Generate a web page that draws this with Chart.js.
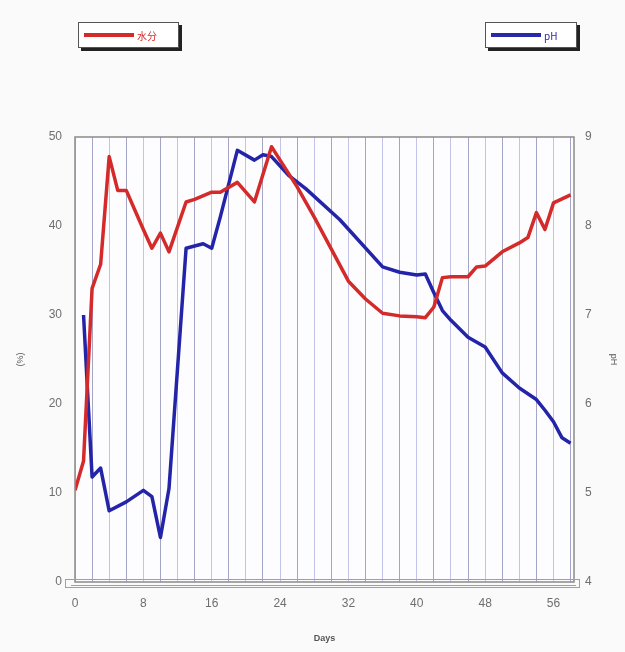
<!DOCTYPE html>
<html>
<head>
<meta charset="utf-8">
<script src="https://cdn.jsdelivr.net/npm/chart.js@4/dist/chart.umd.min.js"></script>
<style>
  html, body { margin: 0; padding: 0; background: #fafafa; }
  #wrap { position: relative; width: 625px; height: 652px; }
  .key {
    position: absolute; top: 22px; height: 26px; background: #fff;
    border: 1px solid #555; box-shadow: 3px 3px 0 #222;
    font: 10px "Noto Sans CJK SC", "Liberation Sans", sans-serif;
    display: flex; align-items: center; box-sizing: border-box;
  }
  .key span.ln { display: inline-block; width: 50px; height: 4px; margin: 0 3px 0 5px; }
</style>
</head>
<body>
<div id="wrap">
  <canvas id="mycanvas" width="625" height="652"></canvas>
  <div class="key" style="left:78px;width:101px;color:#d42a2a">
    <span class="ln" style="background:#d42a2a"></span>水分
  </div>
  <div class="key" style="left:485px;width:92px;color:#2a2aa8">
    <span class="ln" style="background:#2a2aa8"></span>pH
  </div>
</div>
<script>
// moisture content (%), left axis
var moistureDays = [0, 1, 2, 3, 4, 5, 6, 7, 8, 9, 10, 11, 13, 14, 16, 17, 19, 21, 23,
  24, 26, 28, 30, 32, 34, 36, 38, 40, 41, 42, 43, 44, 46, 47, 48, 50, 52, 53, 54, 55, 56, 58];
var moistureValues = [10.3, 13.6, 33.0, 35.7, 47.8, 44.0, 44.0, 41.8, 39.6, 37.5, 39.2, 37.1, 42.7, 43.0, 43.8, 43.8, 44.9, 42.7, 48.9,
  47.4, 44.4, 41.0, 37.4, 33.8, 31.8, 30.2, 29.9, 29.8, 29.7, 30.9, 34.2, 34.3, 34.3, 35.4, 35.5, 37.1, 38.1, 38.7, 41.5, 39.6, 42.6, 43.5];

// pH, right axis
var phDays = [1, 2, 3, 4, 6, 8, 9, 10, 11, 12, 13, 15, 16, 17, 19, 21, 22, 23, 25, 27,
  31, 36, 38, 40, 41, 42, 43, 44, 46, 48, 50, 52, 54, 55, 56, 57, 58];
var phValues = [7.0, 5.18, 5.28, 4.8, 4.9, 5.03, 4.96, 4.5, 5.05, 6.4, 7.75, 7.8, 7.75, 8.1, 8.85, 8.74, 8.8, 8.78, 8.57, 8.42,
  8.07, 7.54, 7.48, 7.45, 7.46, 7.25, 7.05, 6.94, 6.75, 6.64, 6.35, 6.18, 6.05, 5.93, 5.8, 5.62, 5.56];

var xTickStep = 2;
var xLabelStep = 8;

function toPoints(xs, ys) {
  var pts = [];
  for (var i in xs) pts.push({ x: xs[i], y: ys[i] });
  return pts;
}

// plot background, frame and the bracket strip under the x axis
var frame = {
  id: 'frame',
  beforeDraw: function(chart) {
    var a = chart.chartArea, c = chart.ctx;
    c.save();
    c.fillStyle = '#fdfdff';
    c.fillRect(a.left, a.top, a.right - a.left, a.bottom - a.top);
    c.restore();
  },
  afterDraw: function(chart) {
    var a = chart.chartArea, c = chart.ctx;
    c.save();
    c.strokeStyle = '#8a8a8a';
    c.lineWidth = 1.5;
    c.strokeRect(a.left, a.top, a.right - a.left, a.bottom - a.top);
    c.lineWidth = 1;
    c.strokeStyle = '#a0a0a0';
    c.strokeRect(a.left - 9.5, a.bottom - 2.5, a.right - a.left + 15, 8);
    c.beginPath();
    c.moveTo(a.left - 4, a.bottom + 3.5);
    c.lineTo(a.right + 2, a.bottom + 3.5);
    c.stroke();
    c.restore();
  }
};

var ctx = document.getElementById('mycanvas');

new Chart(ctx, {
  type: 'line',
  data: {
    datasets: [
      {
        label: '水分',
        data: toPoints(moistureDays, moistureValues),
        yAxisID: 'y',
        borderColor: '#d42a2a',
        borderWidth: 3.5,
        borderJoinStyle: 'round',
        pointRadius: 0,
        tension: 0
      },
      {
        label: 'pH',
        data: toPoints(phDays, phValues),
        yAxisID: 'y2',
        borderColor: '#2424a8',
        borderWidth: 3.5,
        borderJoinStyle: 'round',
        pointRadius: 0,
        tension: 0
      }
    ]
  },
  options: {
    responsive: false,
    animation: false,
    layout: { padding: { top: 137, right: 0, left: 0, bottom: 0 } },
    plugins: { legend: { display: false }, tooltip: { enabled: false } },
    scales: {
      x: {
        type: 'linear',
        min: 0,
        max: 58.4,
        afterFit: function(s) { s.height = 70; },
        border: { display: false },
        grid: {
          drawTicks: false,
          lineWidth: 1,
          color: function(c) { return c.index % 2 ? '#a4a4c4' : '#c4c4ea'; }
        },
        ticks: {
          stepSize: xTickStep,
          autoSkip: false,
          includeBounds: false,
          maxRotation: 0,
          padding: 14,
          color: '#6e6e6e',
          font: { family: 'Liberation Sans', size: 12 },
          callback: function(v) { return v % xLabelStep === 0 ? v : ''; }
        },
        title: {
          display: true,
          text: 'Days',
          color: '#555',
          font: { family: 'Liberation Sans', size: 9, weight: 'bold' },
          padding: { top: 0, bottom: 8 }
        }
      },
      y: {
        position: 'left',
        min: 0,
        max: 50,
        afterFit: function(s) { s.width = 75; },
        border: { display: false },
        grid: { display: false, drawTicks: false },
        ticks: {
          stepSize: 10,
          padding: 13,
          color: '#6e6e6e',
          font: { family: 'Liberation Sans', size: 12 }
        },
        title: {
          display: true,
          text: '(%)',
          color: '#555',
          font: { family: 'Liberation Sans', size: 9 },
          padding: { top: 15, bottom: 0 }
        }
      },
      y2: {
        position: 'right',
        min: 4,
        max: 9,
        afterFit: function(s) { s.width = 51; },
        border: { display: false },
        grid: { display: false, drawTicks: false },
        ticks: {
          stepSize: 1,
          padding: 11,
          color: '#6e6e6e',
          font: { family: 'Liberation Sans', size: 12 }
        },
        title: {
          display: true,
          text: 'pH',
          color: '#555',
          font: { family: 'Liberation Sans', size: 9 },
          padding: { top: 6, bottom: 0 }
        }
      }
    }
  },
  plugins: [frame]
});
</script>
</body>
</html>
